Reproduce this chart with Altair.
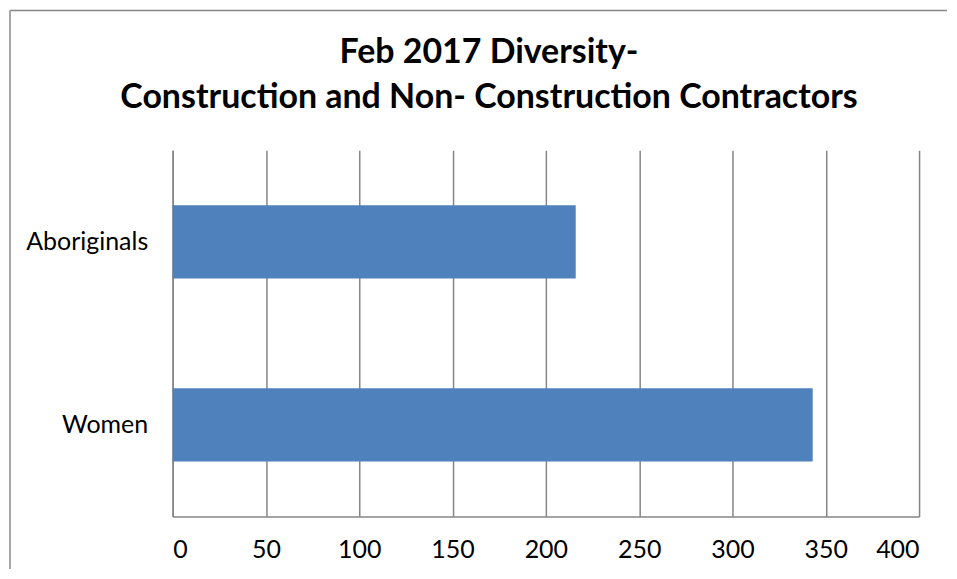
import altair as alt
import pandas as pd

categories = ["Aboriginals", "Women"]
values = [216, 343]
x_ticks = [0, 50, 100, 150, 200, 250, 300, 350, 400]
title_lines = ["Feb 2017 Diversity-", "Construction and Non- Construction Contractors"]

df = pd.DataFrame({"category": categories, "value": values})

FONT = "Lato"
GRID = "#868686"

bars = alt.Chart(df).mark_bar(color="#4F81BD").encode(
    x=alt.X("value:Q",
            scale=alt.Scale(domain=[0, 400], nice=False),
            axis=alt.Axis(values=x_ticks, title=None, grid=True, gridColor=GRID,
                          gridWidth=1.5, domainColor=GRID, domainWidth=1.5,
                          ticks=False, labelPadding=21, labelFont=FONT,
                          labelFontSize=25, labelColor="#000000")),
    y=alt.Y("category:N", sort=categories,
            scale=alt.Scale(paddingInner=0.6, paddingOuter=0.3),
            axis=alt.Axis(title=None, ticks=False, domain=True, domainColor=GRID,
                          domainWidth=1.5, labelPadding=25, labelFont=FONT,
                          labelFontSize=25, labelColor="#000000")),
)

one = alt.Data(values=[{}])

frame_top = alt.Chart(one).mark_rule(color="#888888", strokeWidth=1.5).encode(
    x=alt.value(-163), x2=alt.value(776), y=alt.value(-140)
)
frame_left = alt.Chart(one).mark_rule(color="#888888", strokeWidth=1.5).encode(
    x=alt.value(-163), y=alt.value(-140), y2=alt.value(420)
)

title1 = alt.Chart(one).mark_text(
    text=title_lines[0], font=FONT, fontSize=34, fontWeight="bold",
    color="#000000", align="center", baseline="alphabetic"
).encode(x=alt.value(317), y=alt.value(-87))
title2 = alt.Chart(one).mark_text(
    text=title_lines[1], font=FONT, fontSize=34, fontWeight="bold",
    color="#000000", align="center", baseline="alphabetic"
).encode(x=alt.value(317), y=alt.value(-42))

chart = alt.layer(frame_top, frame_left, bars, title1, title2).properties(
    width=748, height=367,
    autosize=alt.AutoSizeParams(type="none"),
    padding={"left": 165, "top": 142, "right": 30, "bottom": 52},
).configure_view(stroke=None)

chart.save("out.html", embed_options={"renderer": "svg", "actions": False})
